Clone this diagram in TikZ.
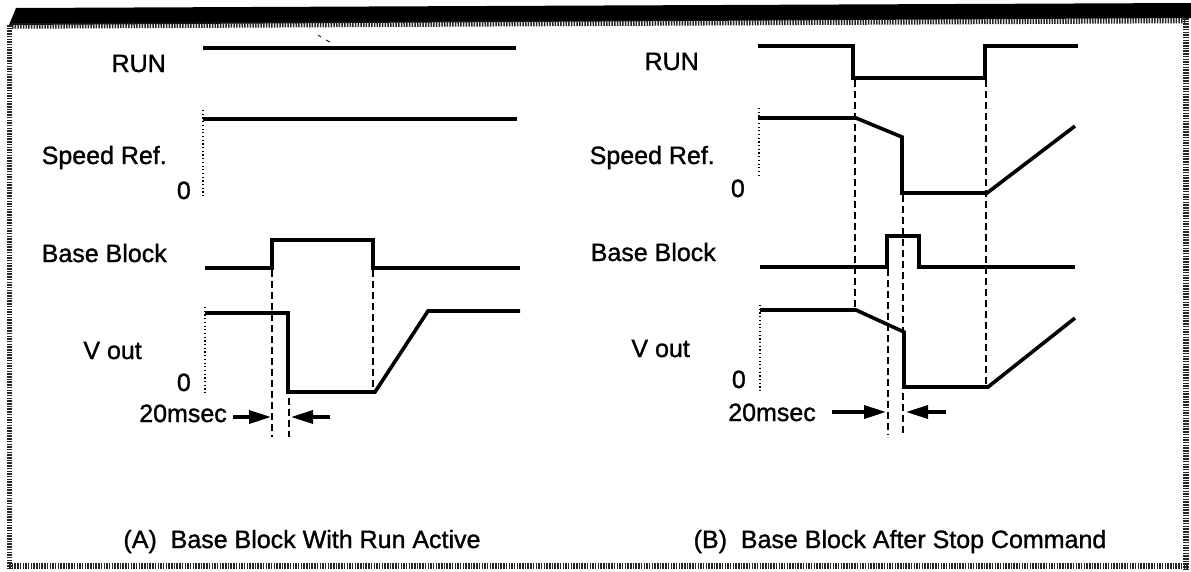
\documentclass[tikz,border=0pt]{standalone}
\usepackage{fontspec}
\setmainfont[FakeBold=1.2]{Liberation Sans}
\usetikzlibrary{arrows.meta}
\begin{document}
\begin{tikzpicture}[x=1pt,y=-1pt,
  sig/.style={line width=3.6pt, line join=miter, line cap=butt},
  guide/.style={line width=1.2pt, dash pattern=on 7pt off 4pt},
  zeroline/.style={line width=1.2pt, dash pattern=on 1.2pt off 2.5pt},
  lbl/.style={inner sep=0pt, anchor=base east, font=\fontsize{25}{30}\selectfont},
  capt/.style={inner sep=0pt, anchor=base, font=\fontsize{25}{30}\selectfont},
  hatch/.style={line width=5.5pt, dash pattern=on 1.5pt off 1.2pt, black!85},
  tmarrow/.style={line width=3.5pt, -{Triangle[length=22pt,width=13pt]}}
]
\useasboundingbox (0,0) rectangle (1191,571);

% frame
\fill (9,25) -- (16,8) -- (1191,3) -- (1191,18) -- cycle;
\draw[hatch] (12,26) -- (1186,20.5);
\draw[hatch] (9.5,25) -- (9.5,569);
\draw[hatch] (1186,18) -- (1186,569);
\draw[hatch] (9,566) -- (1188,566);

% ---------------- Panel A ----------------
\node[lbl] (aRun) at (166,72) {RUN};
\node[lbl] (aSpd) at (167,164) {Speed Ref.};
\node[lbl] (aSpd0) at (191,199) {0};
\node[lbl] (aBB) at (167,262) {Base Block};
\node[lbl] (aV) at (142,359) {V out};
\node[lbl] (aV0) at (191,391) {0};
\node[lbl] (aMs) at (227,422) {20msec};
\node[capt] (aCap) at (302,548) {(A)\ \ Base Block With Run Active};

\draw[sig] (203,48) -- (516,48);
\draw[sig] (203,119) -- (517,119);
\draw[zeroline] (203,110) -- (203,198);
\draw[sig] (205,268) -- (272,268) -- (272,240) -- (373,240) -- (373,268) -- (520,268);
\draw[sig] (205,313) -- (288,313) -- (288,392) -- (375,392) -- (428,311) -- (520,311);
\draw[zeroline] (205,307) -- (205,393);
\draw[guide] (272,270) -- (272,437);
\draw[guide] (289,398) -- (289,437);
\draw[guide] (373,270) -- (373,390);
\draw[tmarrow] (233,417) -- (271,417);
\draw[tmarrow] (330,417) -- (291,417);
\draw[line width=0.8pt] (318,35) -- (321,37) (326,40) -- (330,42);

% ---------------- Panel B ----------------
\node[lbl] (bRun) at (699,70) {RUN};
\node[lbl] (bSpd) at (715,164) {Speed Ref.};
\node[lbl] (bSpd0) at (745,197) {0};
\node[lbl] (bBB) at (716,261) {Base Block};
\node[lbl] (bV) at (690,357) {V out};
\node[lbl] (bV0) at (746,388) {0};
\node[lbl] (bMs) at (816,421) {20msec};
\node[capt] (bCap) at (900,548) {(B)\ \ Base Block After Stop Command};

\draw[sig] (758,46) -- (853,46) -- (853,78) -- (985,78) -- (985,46) -- (1078,46);
\draw[sig] (758,118) -- (856,118) -- (902,137) -- (902,193) -- (987,193) -- (1075,126);
\draw[zeroline] (759,108) -- (759,178);
\draw[sig] (760,267) -- (887,267) -- (887,236) -- (919,236) -- (919,267) -- (1075,267);
\draw[sig] (760,310) -- (856,310) -- (904,332) -- (904,387) -- (988,387) -- (1075,318);
\draw[zeroline] (760,305) -- (760,392);
\draw[guide] (855,80) -- (855,310);
\draw[guide] (986,80) -- (986,387);
\draw[guide] (903,195) -- (903,435);
\draw[guide] (888,269) -- (888,435);
\draw[tmarrow] (832,412) -- (886,412);
\draw[tmarrow] (946,412) -- (906,412);
\end{tikzpicture}
\end{document}
